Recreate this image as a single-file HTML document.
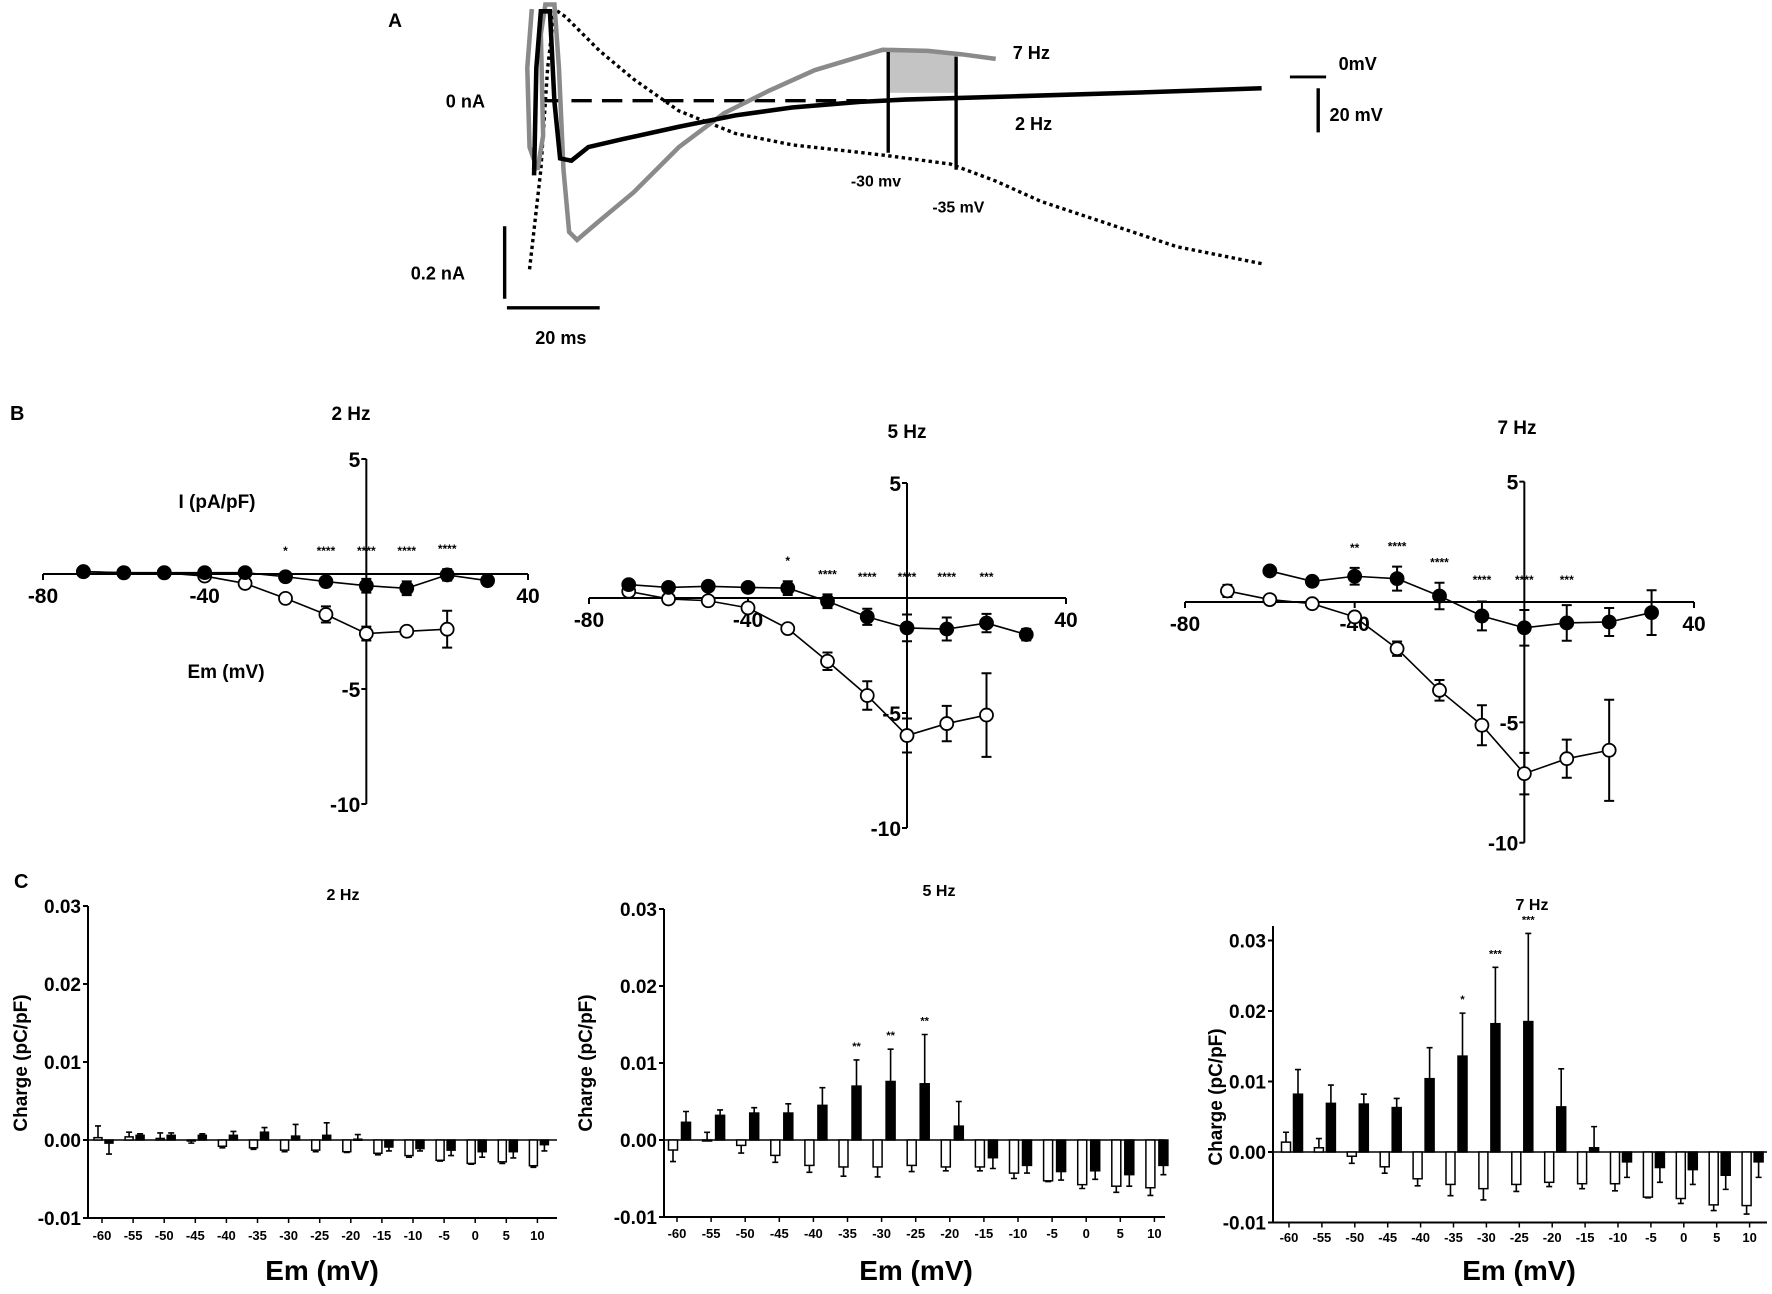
<!DOCTYPE html>
<html><head><meta charset="utf-8"><style>
html,body{margin:0;padding:0;background:#fff}
svg{display:block}
text{font-family:"Liberation Sans",Arial,sans-serif;font-weight:bold;fill:#000}
</style></head><body>
<svg id="fig" width="1772" height="1294" viewBox="0 0 1772 1294" xmlns="http://www.w3.org/2000/svg">
<g id="panelA" transform="scale(1.1315)">
  <text x="343" y="24" font-size="17">A</text>
  <rect x="785" y="46" width="60" height="36" fill="#c4c4c4"/>
  <line x1="478" y1="89" x2="780" y2="89" stroke="#000" stroke-width="3" stroke-dasharray="18,9"/>
  <path fill="none" stroke="#000" stroke-width="3" stroke-dasharray="3,3" d="M468,238 L478,150 L484,60 L490,8 L500,15 L530,45 L560,70 L600,98 L650,118 L700,128 L780,137 L840,145 L880,160 L920,178 L980,198 L1040,218 L1115,233"/>
  <path fill="none" stroke="#8a8a8a" stroke-width="4" d="M470,8 L466,60 L468,130 L475,150 L480,120 L478,30 L482,4 L490,4 L494,60 L498,150 L503,205 L510,212 L530,195 L560,170 L600,130 L640,100 L680,80 L720,62 L760,50 L780,44 L820,45 L850,48 L880,52"/>
  <path fill="none" stroke="#000" stroke-width="4" d="M472,155 L474,60 L478,10 L486,10 L490,90 L495,140 L505,142 L520,130 L550,123 L600,112 L650,102 L700,95 L760,90 L800,88 L900,85 L1000,82 L1115,78"/>
  <line x1="785" y1="46" x2="785" y2="135" stroke="#000" stroke-width="3"/>
  <line x1="845" y1="50" x2="845" y2="150" stroke="#000" stroke-width="3"/>
  <text x="394" y="95" font-size="16">0 nA</text>
  <text x="895" y="52" font-size="16">7 Hz</text>
  <text x="897" y="115" font-size="16">2 Hz</text>
  <text x="752" y="165" font-size="14">-30 mv</text>
  <text x="824" y="188" font-size="14">-35 mV</text>
  <line x1="1140" y1="68" x2="1172" y2="68" stroke="#000" stroke-width="2.5"/>
  <text x="1183" y="62" font-size="16">0mV</text>
  <line x1="1165" y1="78" x2="1165" y2="117" stroke="#000" stroke-width="3"/>
  <text x="1175" y="107" font-size="16">20 mV</text>
  <line x1="446" y1="200" x2="446" y2="264" stroke="#000" stroke-width="3"/>
  <text x="363" y="247" font-size="16">0.2 nA</text>
  <line x1="448" y1="272" x2="530" y2="272" stroke="#000" stroke-width="3"/>
  <text x="473" y="304" font-size="16">20 ms</text>
</g>
<text x="10" y="420" font-size="20">B</text>
<text x="14" y="888" font-size="20">C</text>
<g id="panelB"></g>
<g id="panelC"></g>
</svg>
<script>
// ---- Panel B data (I-V curves) ----
const bVolts = [-70,-60,-50,-40,-30,-20,-10,0,10,20,30];
const b1Filled = [0.1,0.06,0.06,0.06,0.06,-0.12,-0.33,-0.51,-0.62,-0.04,-0.29];
const b1FilledErr = [0.1,0.05,0.05,0.05,0.1,0.15,0.2,0.3,0.3,0.25,0.2];
const b1Open = [0.1,0.05,0.05,-0.09,-0.41,-1.06,-1.76,-2.59,-2.49,-2.4,null];
const b1OpenErr = [0.1,0.05,0.05,0.05,0.1,0.1,0.35,0.3,0.15,0.8,0];
const b1Stars = ['','','','','','*','****','****','****','****',''];
const b2Filled = [0.58,0.46,0.51,0.46,0.43,-0.14,-0.82,-1.3,-1.35,-1.09,-1.59];
const b2FilledErr = [0.1,0.1,0.1,0.1,0.3,0.3,0.35,0.58,0.5,0.4,0.25];
const b2Open = [0.29,-0.04,-0.12,-0.43,-1.33,-2.75,-4.24,-5.98,-5.46,-5.09,null];
const b2OpenErr = [0.1,0.05,0.05,0.1,0.1,0.38,0.62,0.74,0.77,1.82,0];
const b2Stars = ['','','','','*','****','****','****','****','***',''];
const b3Filled = [null,1.29,0.86,1.07,0.97,0.25,-0.58,-1.07,-0.87,-0.83,-0.44];
const b3FilledErr = [0,0.1,0.1,0.35,0.5,0.55,0.6,0.74,0.74,0.58,0.93];
const b3Open = [0.46,0.1,-0.07,-0.62,-1.94,-3.67,-5.12,-7.13,-6.51,-6.16,null];
const b3OpenErr = [0.25,0.05,0.05,0.2,0.3,0.43,0.83,0.86,0.79,2.1,0];
const b3Stars = ['','','','**','****','****','****','****','***','',''];
const bXTicks = [-80,-40,40];
const bYTicks = [5,-5,-10];

// ---- Panel C data (charge bars) ----
const cVolts = [-60,-55,-50,-45,-40,-35,-30,-25,-20,-15,-10,-5,0,5,10];
const c1Open = [0.0003,0.0004,0.0002,-0.0001,-0.0008,-0.001,-0.0013,-0.0013,-0.0015,-0.0017,-0.002,-0.0026,-0.003,-0.0028,-0.0033];
const c1OpenErr = [0.0015,0.0006,0.0007,0.0003,0.0002,0.0002,0.0002,0.0002,0.0001,0.0002,0.0002,0.0001,0.0001,0.0002,0.0002];
const c1Filled = [-0.0004,0.0006,0.0006,0.0006,0.0006,0.001,0.0005,0.0006,0.0001,-0.0009,-0.0011,-0.0013,-0.0015,-0.0015,-0.0006];
const c1FilledErr = [0.0014,0.0002,0.0003,0.0002,0.0005,0.0006,0.0015,0.0016,0.0006,0.0005,0.0003,0.0007,0.0007,0.0008,0.0008];
const c1Stars = ['','','','','','','','','','','','','','',''];
const c2Open = [-0.0013,0,-0.0007,-0.002,-0.0033,-0.0035,-0.0035,-0.0033,-0.0035,-0.0035,-0.0043,-0.0053,-0.0058,-0.006,-0.0062];
const c2OpenErr = [0.0015,0.001,0.001,0.0009,0.0009,0.0012,0.0013,0.0008,0.0005,0.0005,0.0007,0.0001,0.0005,0.0008,0.001];
const c2Filled = [0.0023,0.0032,0.0035,0.0035,0.0045,0.007,0.0076,0.0073,0.0018,-0.0023,-0.0033,-0.0041,-0.004,-0.0045,-0.0033];
const c2FilledErr = [0.0014,0.0007,0.0007,0.0012,0.0023,0.0034,0.0042,0.0064,0.0032,0.0014,0.001,0.0011,0.0011,0.0015,0.0012];
const c2Stars = ['','','','','','**','**','**','','','','','','',''];
const c3Open = [0.0014,0.0006,-0.0006,-0.0021,-0.0038,-0.0046,-0.0052,-0.0046,-0.0043,-0.0045,-0.0045,-0.0064,-0.0066,-0.0075,-0.0076];
const c3OpenErr = [0.0014,0.0013,0.001,0.0009,0.001,0.0016,0.0016,0.001,0.0006,0.0007,0.001,0.0001,0.0007,0.0008,0.0012];
const c3Filled = [0.0082,0.0069,0.0068,0.0063,0.0104,0.0136,0.0182,0.0185,0.0064,0.0006,-0.0014,-0.0022,-0.0025,-0.0033,-0.0014];
const c3FilledErr = [0.0035,0.0026,0.0014,0.0013,0.0044,0.0061,0.008,0.0125,0.0054,0.003,0.0022,0.0021,0.0021,0.002,0.0022];
const c3Stars = ['','','','','','*','***','***','','','','','','',''];
const cYTicks = [0.03,0.02,0.01,0.00,-0.01];

const NS = 'http://www.w3.org/2000/svg';
function mk(parent, tag, attrs, txt) {
  const e = document.createElementNS(NS, tag);
  for (const k in attrs) e.setAttribute(k, attrs[k]);
  if (txt !== undefined) e.textContent = txt;
  parent.appendChild(e);
  return e;
}

// ---------- Panel B ----------
const gB = document.getElementById('panelB');
function drawIV(cfg, filled, filledErr, open, openErr, stars) {
  const g = mk(gB, 'g', {});
  
  
  const xs = v => cfg.x0 + (v - (-80)) * (cfg.x1 - cfg.x0) / 120;
  const ys = v => cfg.y0 - v * cfg.unit;
  // axes
  const xa = mk(g, 'line', {x1: xs(-80), y1: ys(0), x2: xs(40), y2: ys(0), stroke: '#000', 'stroke-width': 2});
  
  
  const ya = mk(g, 'line', {x1: xs(0), y1: ys(5), x2: xs(0), y2: ys(-10), stroke: '#000', 'stroke-width': 2});
  
  
  bXTicks.forEach(t => {
    mk(g, 'line', {x1: xs(t), y1: ys(0), x2: xs(t), y2: ys(0) + 6, stroke: '#000', 'stroke-width': 2});
    const tl = mk(g, 'text', {x: xs(t), y: ys(0) + 29, 'font-size': 21, 'text-anchor': 'middle'}, String(t));
    
    
  });
  bYTicks.forEach(t => {
    mk(g, 'line', {x1: xs(0) - 5, y1: ys(t), x2: xs(0), y2: ys(t), stroke: '#000', 'stroke-width': 2});
    const tl = mk(g, 'text', {x: xs(0) - 6, y: ys(t) + 8, 'font-size': 21, 'text-anchor': 'end'}, String(t));
    
    
  });
  const tt = mk(g, 'text', {x: cfg.titleX, y: cfg.titleY, 'font-size': 19, 'text-anchor': 'middle'}, cfg.title);
  
  
  // series
  function series(vals, errs, isOpen) {
    let d = '';
    bVolts.forEach((v, i) => { if (vals[i] !== null) d += (d ? 'L' : 'M') + xs(v) + ',' + ys(vals[i]); });
    const p = mk(g, 'path', {d: d, fill: 'none', stroke: '#000', 'stroke-width': 1.6});
    
    
    bVolts.forEach((v, i) => {
      if (vals[i] === null) return;
      const x = xs(v), a = ys(vals[i] + errs[i]), b = ys(vals[i] - errs[i]);
      const eb = mk(g, 'path', {d: `M${x},${a}L${x},${b}M${x-5},${a}L${x+5},${a}M${x-5},${b}L${x+5},${b}`, stroke: '#000', 'stroke-width': 2, fill: 'none'});
      
      
      const c = mk(g, 'circle', {cx: x, cy: ys(vals[i]), r: 6.5, fill: isOpen ? '#fff' : '#000', stroke: '#000', 'stroke-width': 1.8});
      
      
    });
  }
  series(open, openErr, true);
  series(filled, filledErr, false);
  bVolts.forEach((v, i) => {
    if (!stars[i]) return;
    const top = filled[i] !== null ? ys(Math.max(filled[i] + filledErr[i], 0)) - 20 : cfg.starRow;
    const s = mk(g, 'text', {x: xs(v), y: Math.min(cfg.starRow, top) + 4, 'font-size': 12, 'text-anchor': 'middle', 'letter-spacing': '0'}, stars[i]);
    
    
  });
  return g;
}
const gB1 = drawIV({name: 'iv-chart-2hz', x0: 43, x1: 528, y0: 574, unit: 23, title: '2 Hz', titleX: 351, titleY: 420, starRow: 551}, b1Filled, b1FilledErr, b1Open, b1OpenErr, b1Stars);
const l1 = mk(gB1, 'text', {x: 217, y: 508, 'font-size': 19, 'text-anchor': 'middle'}, 'I (pA/pF)');


const l2 = mk(gB1, 'text', {x: 226, y: 678, 'font-size': 19, 'text-anchor': 'middle'}, 'Em (mV)');


drawIV({name: 'iv-chart-5hz', x0: 589, x1: 1066, y0: 598, unit: 23, title: '5 Hz', titleX: 907, titleY: 438, starRow: 577}, b2Filled, b2FilledErr, b2Open, b2OpenErr, b2Stars);
drawIV({name: 'iv-chart-7hz', x0: 1185, x1: 1694, y0: 602, unit: 24.07, title: '7 Hz', titleX: 1517, titleY: 434, starRow: 580}, b3Filled, b3FilledErr, b3Open, b3OpenErr, b3Stars);

// ---------- Panel C ----------
const gC = document.getElementById('panelC');
function drawBars(cfg, open, openErr, filled, filledErr, stars) {
  const g = mk(gC, 'g', {});
  
  
  const ys = v => cfg.zero - v * cfg.unit * 100;
  const xs = i => cfg.x0 + i * cfg.step;
  const ya = mk(g, 'line', {x1: cfg.ax, y1: cfg.top, x2: cfg.ax, y2: ys(-0.01), stroke: '#000', 'stroke-width': 2});
  
  
  const xa = mk(g, 'line', {x1: cfg.ax, y1: ys(-0.01), x2: cfg.xEnd, y2: ys(-0.01), stroke: '#000', 'stroke-width': 2});
  
  
  const zl = mk(g, 'line', {x1: cfg.ax, y1: ys(0), x2: cfg.xEnd, y2: ys(0), stroke: '#000', 'stroke-width': 1.5});
  
  
  cYTicks.forEach(t => {
    mk(g, 'line', {x1: cfg.ax - 5, y1: ys(t), x2: cfg.ax, y2: ys(t), stroke: '#000', 'stroke-width': 2});
    const tl = mk(g, 'text', {x: cfg.ax - 7, y: ys(t) + 7, 'font-size': 19, 'text-anchor': 'end'}, t.toFixed(2));
    
    
  });
  cVolts.forEach((v, i) => {
    mk(g, 'line', {x1: xs(i), y1: ys(-0.01), x2: xs(i), y2: ys(-0.01) + 5, stroke: '#000', 'stroke-width': 1.5});
    const tl = mk(g, 'text', {x: xs(i), y: cfg.tickY, 'font-size': 13, 'font-weight': 'normal', 'text-anchor': 'middle'}, String(v));
    
    
    [[open, openErr, cfg.oOff, true], [filled, filledErr, cfg.fOff, false]].forEach(([vals, errs, off, isOpen]) => {
      const cx = xs(i) + off, val = vals[i];
      const y1 = Math.min(ys(0), ys(val)), h = Math.abs(ys(val) - ys(0));
      const r = mk(g, 'rect', {x: cx - cfg.bw / 2, y: y1, width: cfg.bw, height: Math.max(h, 1), fill: isOpen ? '#fff' : '#000', stroke: '#000', 'stroke-width': 1.5});
      
      
      const sign = val >= 0 ? 1 : -1;
      const ye = ys(val + sign * errs[i]);
      const eb = mk(g, 'path', {d: `M${cx},${ys(val)}L${cx},${ye}M${cx-3},${ye}L${cx+3},${ye}`, stroke: '#000', 'stroke-width': 1.6, fill: 'none'});
      
      
    });
    if (stars[i]) {
      const top = ys(filled[i] + filledErr[i]);
      const s = mk(g, 'text', {x: xs(i) + cfg.fOff, y: top - 10, 'font-size': 11, 'text-anchor': 'middle'}, stars[i]);
      
      
    }
  });
  const tt = mk(g, 'text', {x: cfg.titleX, y: cfg.titleY, 'font-size': 16, 'text-anchor': 'middle'}, cfg.title);
  
  
  const xt = mk(g, 'text', {x: cfg.xtX, y: 1280, 'font-size': 28, 'text-anchor': 'middle'}, 'Em (mV)');
  
  
  const yt = mk(g, 'text', {x: 0, y: 0, 'font-size': 19, 'text-anchor': 'middle', transform: `translate(${cfg.ytX},${cfg.ytY}) rotate(-90)`}, 'Charge (pC/pF)');
  
  
}
drawBars({name: 'charge-chart-2hz', ax: 88, zero: 1140, unit: 78, top: 906, xEnd: 557, x0: 102, step: 31.1, bw: 8, oOff: -4, fOff: 7, tickY: 1240, title: '2 Hz', titleX: 343, titleY: 900, xtX: 322, ytX: 27, ytY: 1063}, c1Open, c1OpenErr, c1Filled, c1FilledErr, c1Stars);
drawBars({name: 'charge-chart-5hz', ax: 664, zero: 1140, unit: 77, top: 909, xEnd: 1165, x0: 677, step: 34.1, bw: 9, oOff: -4, fOff: 9, tickY: 1238, title: '5 Hz', titleX: 939, titleY: 896, xtX: 916, ytX: 592, ytY: 1063}, c2Open, c2OpenErr, c2Filled, c2FilledErr, c2Stars);
drawBars({name: 'charge-chart-7hz', ax: 1273, zero: 1152, unit: 70.5, top: 926, xEnd: 1767, x0: 1289, step: 32.9, bw: 9, oOff: -3, fOff: 9, tickY: 1242, title: '7 Hz', titleX: 1532, titleY: 910, xtX: 1519, ytX: 1222, ytY: 1097}, c3Open, c3OpenErr, c3Filled, c3FilledErr, c3Stars);
</script>
</body></html>
